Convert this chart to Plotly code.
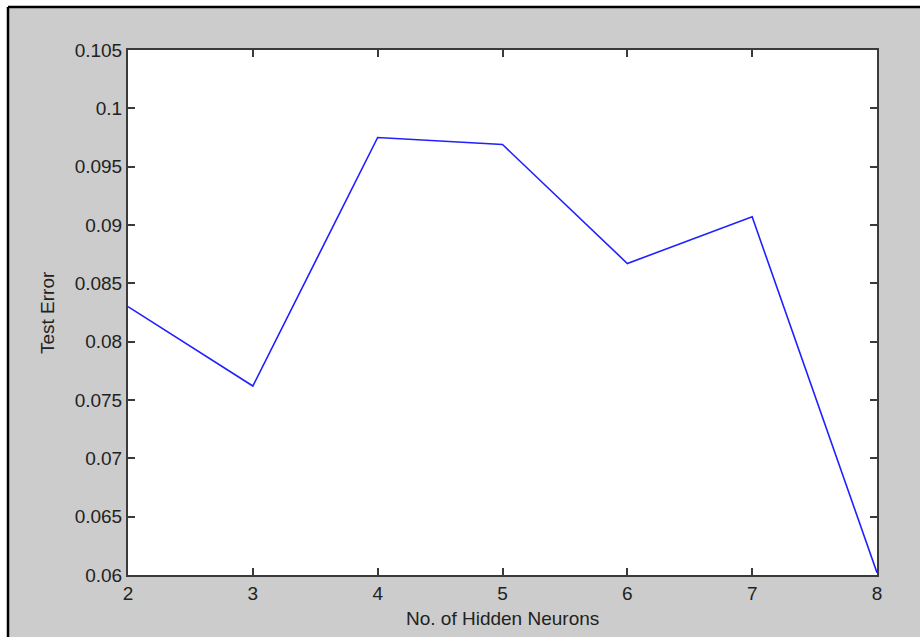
import plotly.graph_objects as go

# Test error against the number of hidden neurons
neurons = [2, 3, 4, 5, 6, 7, 8]
test_error = [0.0830, 0.0762, 0.0975, 0.0969, 0.0867, 0.0907, 0.0602]

y_tickvals = [0.06, 0.065, 0.07, 0.075, 0.08, 0.085, 0.09, 0.095, 0.1, 0.105]
y_ticktext = ["0.06", "0.065", "0.07", "0.075", "0.08", "0.085", "0.09", "0.095", "0.1", "0.105"]
x_tickvals = [2, 3, 4, 5, 6, 7, 8]

W, H = 920, 637
L, R, T, B = 128, 877, 50, 575  # plot area in pixels


def px_x(px):
    return (px - L) / (R - L)


def px_y(py):
    return (B - py) / (B - T)


FONT = "Liberation Sans, Arial, sans-serif"
TEXT_COLOR = "#222222"
AXIS_COLOR = "#3a3a3a"

fig = go.Figure()
fig.add_trace(go.Scatter(
    x=neurons, y=test_error, mode="lines",
    line=dict(color="#2020ff", width=1.6),
    showlegend=False,
))

axis_common = dict(
    showgrid=False, zeroline=False,
    showline=True, linecolor=AXIS_COLOR, linewidth=2,
    mirror="ticks", ticks="inside", ticklen=7, tickwidth=1.5, tickcolor=AXIS_COLOR,
    tickfont=dict(family=FONT, size=19, color=TEXT_COLOR),
)

fig.update_xaxes(range=[2, 8], tickvals=x_tickvals, **axis_common)
fig.update_yaxes(range=[0.06, 0.105], tickvals=y_tickvals, ticktext=y_ticktext, **axis_common)

shapes = [
    # white strip outside the figure frame
    dict(type="rect", xref="paper", yref="paper", x0=px_x(-5), x1=px_x(8), y0=px_y(H + 5), y1=px_y(-5),
         fillcolor="white", line=dict(width=0), layer="above"),
    dict(type="rect", xref="paper", yref="paper", x0=px_x(-5), x1=px_x(W + 5), y0=px_y(7), y1=px_y(-5),
         fillcolor="white", line=dict(width=0), layer="above"),
    # frame lines
    dict(type="line", xref="paper", yref="paper", x0=px_x(8), x1=px_x(8), y0=px_y(7), y1=px_y(H + 5),
         line=dict(color="black", width=2.5), layer="above"),
    dict(type="line", xref="paper", yref="paper", x0=px_x(8), x1=px_x(W + 5), y0=px_y(7), y1=px_y(7),
         line=dict(color="black", width=2.5), layer="above"),
]

annotations = [
    dict(text="Test Error", xref="paper", yref="paper", x=px_x(47), y=px_y(313),
         showarrow=False, textangle=-90, xanchor="center", yanchor="middle",
         font=dict(family=FONT, size=19, color=TEXT_COLOR)),
    dict(text="No. of Hidden Neurons", xref="paper", yref="paper", x=px_x(502), y=px_y(618),
         showarrow=False, xanchor="center", yanchor="middle",
         font=dict(family=FONT, size=19, color=TEXT_COLOR)),
]

fig.update_layout(
    width=W, height=H,
    margin=dict(l=L, r=W - R, t=T, b=H - B),
    paper_bgcolor="#cccccc", plot_bgcolor="white",
    shapes=shapes, annotations=annotations,
)

fig.write_html("out.html")
